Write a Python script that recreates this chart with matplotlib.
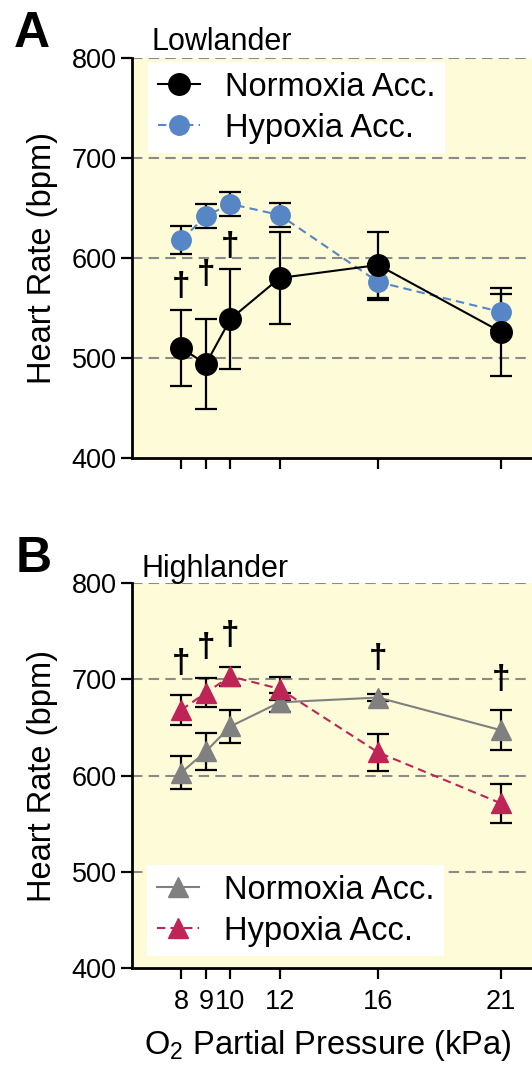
import numpy as np
import matplotlib
matplotlib.use("Agg")
import matplotlib.pyplot as plt

plt.rcParams['font.family'] = ['Liberation Sans', 'DejaVu Sans']

# O2 partial pressure levels (kPa)
po2 = [8, 9, 10, 12, 16, 21]
po2_labels = ['8', '9', '10', '12', '16', '21']

# Lowlander heart rate (bpm), mean and error
low_norm = [510, 494, 539, 580, 593, 526]
low_norm_err = [38, 45, 50, 46, 33, 44]
low_hyp = [618, 642, 654, 643, 576, 546]
low_hyp_err = [14, 12, 12, 12, 18, 18]
low_dagger_x = [8, 9, 10]
low_dagger_y = [572, 584, 612]

# Highlander heart rate (bpm)
high_norm = [603, 625, 651, 676, 681, 647]
high_norm_err = [17, 19, 17, 10, 4, 21]
high_hyp = [668, 686, 703, 690, 624, 571]
high_hyp_err = [16, 15, 10, 12, 19, 20]
high_dagger_x = [8, 9, 10, 16, 21]
high_dagger_y = [716, 733, 745, 722, 700]

W, H = 532, 1088
fig = plt.figure(figsize=(W / 100, H / 100), dpi=100)

bg = '#FDFBD8'
ax_w = 443 / W
axA = fig.add_axes([132 / W, (H - 458) / H, ax_w, 400 / H])
axB = fig.add_axes([132 / W, (H - 968) / H, ax_w, 385 / H])


def style_axes(ax):
    ax.set_facecolor(bg)
    ax.set_xlim(6, 24)
    ax.set_ylim(400, 800)
    ax.set_yticks([400, 500, 600, 700, 800])
    ax.set_xticks(po2)
    for s in ['top', 'right']:
        ax.spines[s].set_visible(False)
    for s in ['left', 'bottom']:
        ax.spines[s].set_linewidth(2)
    ax.tick_params(axis='both', length=8, width=1.6, labelsize=19.5)
    ax.tick_params(axis='y', pad=3)
    ax.tick_params(axis='x', pad=7)
    for y in [500, 600, 700, 800]:
        ax.axhline(y, color='#8a8a8a', lw=1.5, ls=(0, (5, 3)), zorder=1)
    ax.set_ylabel('Heart Rate (bpm)', fontsize=23.5)
    ax.yaxis.set_label_coords(-0.166, 0.5)


def draw_series(ax, y, err, color, marker, ms, ls, label):
    ax.errorbar(po2, y, yerr=err, fmt='none', ecolor='black', elinewidth=1.6,
                capsize=8, capthick=1.6, zorder=3)
    ax.plot(po2, y, color=color, marker=marker, ms=ms, lw=1.5, ls=ls,
            markeredgecolor=color, label=label, zorder=4)


def add_legend(ax, handles, labels, loc, anchor):
    leg = ax.legend(handles, labels, loc=loc, bbox_to_anchor=anchor,
                    fontsize=23.5, frameon=True, fancybox=False, framealpha=1,
                    edgecolor='white', borderaxespad=0, handlelength=1.3,
                    handletextpad=0.75, labelspacing=0.3, borderpad=0.3)
    leg.get_frame().set_linewidth(0)
    return leg


# Panel A: lowlanders
style_axes(axA)
axA.set_xticklabels([])
draw_series(axA, low_hyp, low_hyp_err, '#5686C6', 'o', 14, (0, (4, 2.5)), 'Hypoxia Acc.')
draw_series(axA, low_norm, low_norm_err, 'black', 'o', 15.5, '-', 'Normoxia Acc.')
for x, y in zip(low_dagger_x, low_dagger_y):
    axA.text(x, y, '\u2020', ha='center', va='center', fontsize=24,
             fontweight='bold', zorder=5)
h, l = axA.get_legend_handles_labels()
add_legend(axA, h[::-1], l[::-1], 'upper left', (0.036, 0.99))

# Panel B: highlanders
style_axes(axB)
axB.set_xticklabels(po2_labels)
draw_series(axB, high_norm, high_norm_err, '#808080', '^', 15, '-', 'Normoxia Acc.')
draw_series(axB, high_hyp, high_hyp_err, '#BE2455', '^', 15, (0, (4, 2.5)), 'Hypoxia Acc.')
for x, y in zip(high_dagger_x, high_dagger_y):
    axB.text(x, y, '\u2020', ha='center', va='center', fontsize=24,
             fontweight='bold', zorder=5)
h, l = axB.get_legend_handles_labels()
add_legend(axB, h, l, 'lower left', (0.034, 0.03))
axB.set_xlabel(r'$\mathregular{O_2}$ Partial Pressure (kPa)', fontsize=23.5)
axB.xaxis.set_label_coords(0.442, -0.155)

# panel letters and group titles
fig.text(14 / W, 1 - 47 / H, 'A', fontsize=36, fontweight='bold', va='baseline')
fig.text(16 / W, 1 - 572 / H, 'B', fontsize=36, fontweight='bold', va='baseline')
fig.text(152 / W, 1 - 50 / H, 'Lowlander', fontsize=22, va='baseline')
fig.text(142 / W, 1 - 577 / H, 'Highlander', fontsize=22, va='baseline')

fig.savefig('out.png', dpi=100)
